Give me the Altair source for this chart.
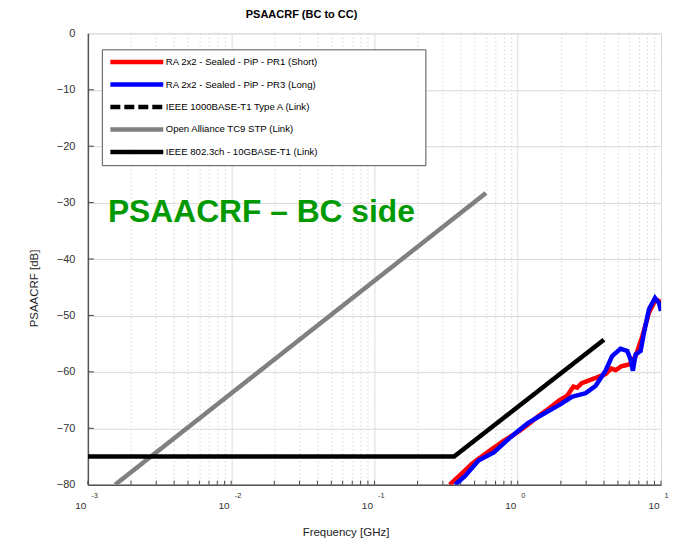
import altair as alt
import pandas as pd

# ---------------- data ----------------
series_names = [
    "RA 2x2 - Sealed - PiP - PR1 (Short)",
    "RA 2x2 - Sealed - PiP - PR3 (Long)",
    "IEEE 1000BASE-T1 Type A (Link)",
    "Open Alliance TC9 STP (Link)",
    "IEEE 802.3ch - 10GBASE-T1 (Link)",
]
series_colors = ["#ff0000", "#0000ff", "#000000", "#808080", "#000000"]
series_dash = [[1, 0], [1, 0], [10, 4], [1, 0], [1, 0]]
series_widths = [4.5, 4.5, 3.5, 3.5, 3.5]

pr1_freq = [0.335, 0.40, 0.479, 0.56, 0.66, 0.80, 1.0, 1.2, 1.40, 1.65, 1.94, 2.2,
            2.45, 2.6, 2.8, 3.31, 4.10, 4.5, 4.82, 5.3, 5.98, 6.65, 7.40, 8.24, 9.18, 10.0]
pr1_db = [-80.0, -78.2, -76.3, -75.0, -73.7, -72.2, -70.7, -69.2, -67.8, -66.5, -65.1, -64.3,
          -62.6, -62.8, -62.0, -61.3, -60.4, -59.4, -59.7, -59.0, -58.7, -57.2, -53.7, -49.5, -47.2, -47.6]

pr3_freq = [0.366, 0.431, 0.533, 0.679, 0.889, 1.19, 1.65, 1.94, 2.40, 2.97, 3.49, 4.10,
            4.56, 5.22, 5.81, 6.13, 6.36, 6.65, 7.20, 7.60, 8.24, 9.08, 9.68, 10.0]
pr3_db = [-80.0, -78.4, -75.7, -74.3, -71.6, -69.0, -66.9, -65.9, -64.4, -63.8, -62.5, -59.8,
          -57.2, -55.9, -56.3, -57.8, -59.8, -56.9, -56.3, -53.1, -48.9, -46.9, -47.8, -49.2]

tc9_freq = [0.00155, 0.6]
tc9_db = [-80.0, -28.3]

ch_freq = [0.001, 0.36, 4.0]
ch_db = [-75.0, -75.0, -54.3]

annot_text = ["PSAACRF \u2013 BC side"]
annot_freq = [0.00138]
annot_db = [-31.7]

decade_ticks = [0.001, 0.01, 0.1, 1, 10]
minor_ticks = [m * 10.0 ** k for k in range(-3, 1) for m in range(1, 10)] + [10.0]
y_ticks = [-80, -70, -60, -50, -40, -30, -20, -10, 0]
y_inner_ticks = [-70, -60, -50, -40, -30, -20, -10]

rows = []
for name, fs, ds in [
    (series_names[0], pr1_freq, pr1_db),
    (series_names[1], pr3_freq, pr3_db),
    (series_names[3], tc9_freq, tc9_db),
    (series_names[4], ch_freq, ch_db),
]:
    for f, d in zip(fs, ds):
        rows.append({"series": name, "freq": f, "db": d})
df = pd.DataFrame(rows)

annot_df = pd.DataFrame({"freq": annot_freq, "db": annot_db, "text": annot_text})
xtick_df = pd.DataFrame({"freq": minor_ticks})
ytick_df = pd.DataFrame({"db": y_inner_ticks})

# ---------------- scales / axes ----------------
FONT = "Liberation Sans"
is_decade = "abs(log(datum.value)/LN10 - round(log(datum.value)/LN10)) < 1e-6"
# trailing padding (ends with a zero-width char so it is not trimmed away)
LABEL_PAD = "\u00a0" * 38 + "\u200b"

x_scale = alt.Scale(type="log", domain=[0.001, 10], nice=False)
y_scale = alt.Scale(domain=[-80, 0], nice=False, zero=False)

main_x_axis = alt.Axis(
    values=minor_ticks,
    labelExpr=f"({is_decade}) ? '10' : ''",
    labelAlign="right", labelOffset=-2, labelBaseline="middle", labelPadding=21,
    labelFont=FONT, labelFontSize=10, labelColor="#333333",
    ticks=False, tickSize=0,
    grid=True,
    gridDash={"condition": {"test": is_decade, "value": [1, 0]}, "value": [1, 3]},
    gridColor={"condition": {"test": is_decade, "value": "#d9d9d9"}, "value": "#c4c4c4"},
    domainColor="#555555", domainWidth=1.5,
    title="Frequency [GHz]", titleFont=FONT, titleFontSize=11.5, titleFontWeight="normal",
    titleColor="#222222", titleX=258, titleY=51, titleBaseline="alphabetic", titleAlign="center",
    labelOverlap=False,
)

exp_x_axis = alt.Axis(
    orient="bottom",
    values=decade_ticks,
    labelExpr="'' + round(log(datum.value)/LN10)",
    labelAlign="left", labelOffset=3, labelBaseline="middle", labelPadding=11,
    labelFont=FONT, labelFontSize=7.5, labelColor="#333333",
    ticks=False, tickSize=0, grid=False, domain=False, title=None,
    labelOverlap=False,
)

y_axis = alt.Axis(
    values=y_ticks,
    labelFont=FONT, labelFontSize=11, labelColor="#333333", labelPadding=13,
    ticks=False, tickSize=0,
    grid=True, gridColor="#d9d9d9",
    domainColor="#555555", domainWidth=1.5,
    title="PSAACRF [dB]", titleFont=FONT, titleFontSize=11.5, titleFontWeight="normal",
    titleColor="#222222", titleX=-48.5, titleY=255, titleBaseline="bottom", titleAlign="center",
)

color_scale = alt.Scale(domain=series_names, range=series_colors)
dash_scale = alt.Scale(domain=series_names, range=series_dash)
width_scale = alt.Scale(domain=series_names, range=series_widths)

legend = alt.Legend(
    title=None, orient="none", legendX=14, legendY=16, direction="vertical",
    symbolType="stroke", symbolSize=2809, symbolStrokeWidth=4, symbolOpacity=1,
    clipHeight=13.5, rowPadding=8.5,
    labelFont=FONT, labelFontSize=9.6, labelColor="#000000", labelOffset=0, labelLimit=600,
    labelExpr=f"datum.label + '{LABEL_PAD}'",
    padding=6, strokeColor="#555555", fillColor="#ffffff", cornerRadius=0,
)


def line_layer(name, with_axis):
    return alt.Chart(df).transform_filter(alt.datum.series == name).mark_line(clip=True).encode(
        x=alt.X("freq:Q", scale=x_scale, axis=main_x_axis if with_axis else None),
        y=alt.Y("db:Q", scale=y_scale, axis=y_axis),
        color=alt.Color("series:N", scale=color_scale, legend=legend),
        strokeDash=alt.StrokeDash("series:N", scale=dash_scale, legend=legend),
        strokeWidth=alt.StrokeWidth("series:N", scale=width_scale, legend=None),
    )


gray_layer = line_layer(series_names[3], True)
black_layer = line_layer(series_names[4], False)
red_layer = line_layer(series_names[0], False)
blue_layer = line_layer(series_names[1], False)

xtick_layer = alt.Chart(xtick_df).mark_rule(color="#444444", strokeWidth=1).encode(
    x=alt.X("freq:Q", scale=x_scale, axis=exp_x_axis),
    y=alt.value(452),
    y2=alt.value(448),
)

ytick_layer = alt.Chart(ytick_df).mark_rule(color="#444444", strokeWidth=1).encode(
    y=alt.Y("db:Q", scale=y_scale, axis=y_axis),
    x=alt.value(0),
    x2=alt.value(6),
)

text_layer = alt.Chart(annot_df).mark_text(
    align="left", baseline="middle", font=FONT, fontSize=31.8, fontWeight="bold", color="#009900"
).encode(
    x=alt.X("freq:Q", scale=x_scale, axis=None),
    y=alt.Y("db:Q", scale=y_scale, axis=y_axis),
    text="text:N",
)

chart = alt.layer(
    gray_layer, xtick_layer, ytick_layer, text_layer, black_layer, red_layer, blue_layer
).resolve_axis(x="independent").properties(
    width=574,
    height=452,
    autosize=alt.AutoSizeParams(type="none"),
    padding={"left": 80, "top": 25, "right": 12, "bottom": 54},
    title=alt.TitleParams(
        "PSAACRF (BC to CC)", font=FONT, fontSize=11, fontWeight="bold", color="#000000",
        anchor="middle", frame="group", dx=-73, dy=18, offset=14, baseline="bottom",
    ),
).configure_view(stroke="#d9d9d9", strokeWidth=1).configure(background="white")

chart.save("out.html", embed_options={"renderer": "svg", "actions": False})
